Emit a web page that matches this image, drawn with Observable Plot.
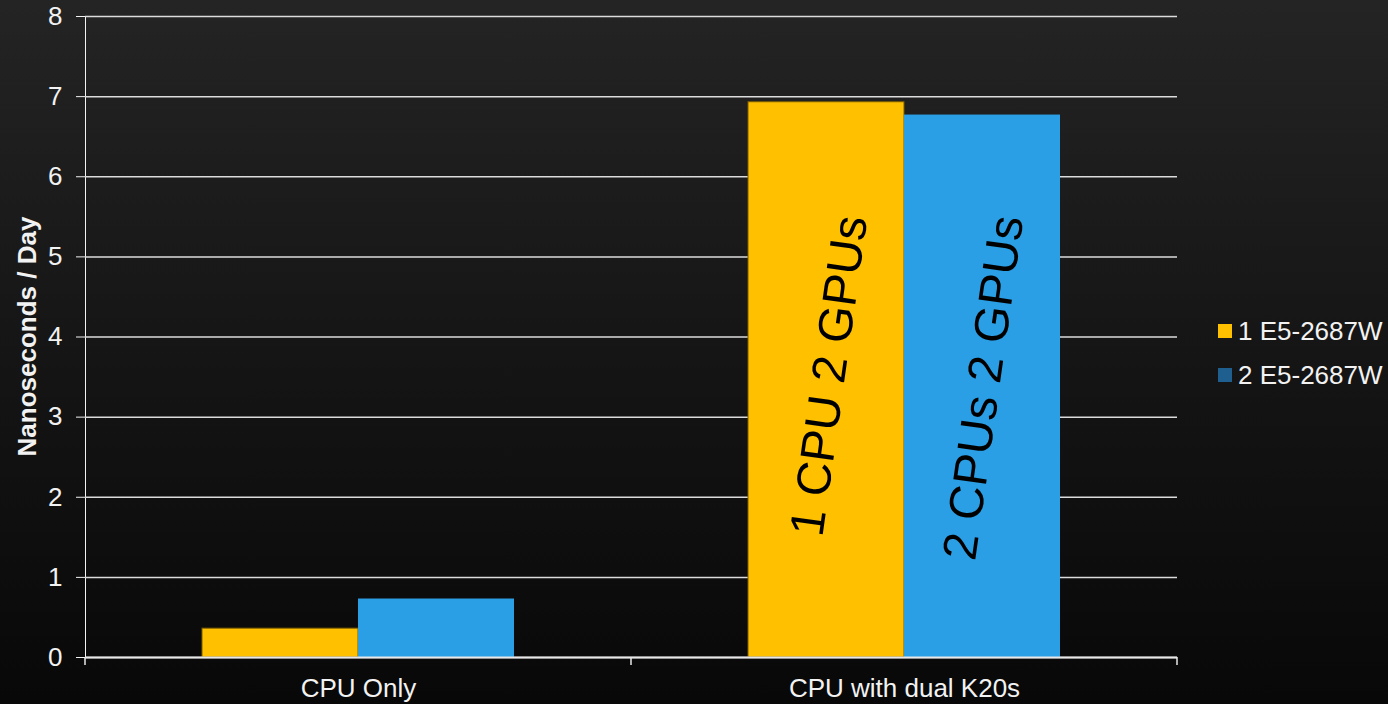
<!DOCTYPE html>
<html><head><meta charset="utf-8">
<script src="https://cdn.jsdelivr.net/npm/d3@7"></script>
<script src="https://cdn.jsdelivr.net/npm/@observablehq/plot@0.6"></script>
<style>
html,body{margin:0;padding:0;width:1388px;height:704px;overflow:hidden;background:linear-gradient(to bottom,#242424 0%,#161616 47%,#080808 100%);font-family:"Liberation Sans",Arial,sans-serif;}
#wrap{position:relative;width:1388px;height:704px;}
#chart svg{position:absolute;left:0;top:0;}
#legend{position:absolute;left:1218px;top:320px;color:#f2f2f2;font-size:26px;line-height:22px;}
.item{display:flex;align-items:center;height:22px;margin-bottom:22px;white-space:nowrap;}
.sw{width:14px;height:14px;margin-right:6px;flex:none;}
</style></head><body>
<div id="wrap"><div id="chart"></div><div id="legend"></div></div>
<script>
const categories = ["CPU Only", "CPU with dual K20s"];
const seriesNames = ["1 E5-2687W", "2 E5-2687W"];
const seriesOne = [0.36, 6.93];
const seriesTwo = [0.73, 6.77];
const barLabels = ["1 CPU 2 GPUs", "2 CPUs 2 GPUs"];
const yTicks = [0, 1, 2, 3, 4, 5, 6, 7, 8];
const yLabel = "Nanoseconds / Day";

const barColors = ["#FFC000", "#2B9FE5"];
const legendColors = ["#FFC000", "#1F5F8F"];

const table = [];
categories.forEach((c, i) => {
  [seriesOne, seriesTwo].forEach((vals, j) => {
    table.push({category: c, series: seriesNames[j], value: vals[i],
      label: i === 1 ? barLabels[j] : null});
  });
});

const plot = Plot.plot({
  width: 1388,
  height: 704,
  marginLeft: 85,
  marginRight: 211,
  marginTop: 16,
  marginBottom: 47,
  style: {background: "transparent", color: "#f2f2f2", fontSize: "26px", fontFamily: "'Liberation Sans', Arial, sans-serif"},
  facet: {data: table, x: "category", marginTop: 0, marginBottom: 0, marginLeft: 0, marginRight: 0},
  fx: {domain: categories, padding: 0, label: null, tickSize: 0, tickPadding: 21},
  x: {domain: seriesNames, paddingInner: 0, paddingOuter: 0.75, axis: null},
  y: {domain: [0, 8], ticks: yTicks, tickSize: 9, tickPadding: 14, label: null, line: true},
  color: {domain: seriesNames, range: barColors},
  marks: [
    Plot.ruleY(yTicks, {stroke: "#dcdcdc", strokeWidth: 1.5}),
    Plot.barY(table, {filter: d => d.series === seriesNames[0], x: "series", y: "value", fill: "series", stroke: "#7a5c00", strokeWidth: 1}),
    Plot.barY(table, {filter: d => d.series === seriesNames[1], x: "series", y: "value", fill: "series"}),
    Plot.ruleY([0], {stroke: "#e8e8e8", strokeWidth: 2}),
    Plot.text(table, {filter: d => d.label, x: "series", text: "label", frameAnchor: "top",
      dy: 197, dx: 7, rotate: -82, textAnchor: "end", fontSize: 48, fill: "#000"})
  ]
});
document.getElementById("chart").appendChild(plot);

// category boundary ticks and y label, placed with the plot's own scales
const svg = d3.select(plot);
const fxs = plot.scale("fx");
const ys = plot.scale("y");
const band = d3.scaleBand().domain(fxs.domain).range(fxs.range).padding(0);
const y0 = ys.range[0], y1 = ys.range[1];
const bounds = fxs.domain.map(c => band(c)).concat([band(fxs.domain[fxs.domain.length - 1]) + band.bandwidth()]);
svg.append("g").selectAll("line").data(bounds).join("line")
  .attr("x1", d => d).attr("x2", d => d)
  .attr("y1", y0).attr("y2", y0 + 8)
  .attr("stroke", "#e8e8e8").attr("stroke-width", 1.5);
svg.append("text")
  .attr("transform", `translate(27,${(y0 + y1) / 2}) rotate(-90)`)
  .attr("text-anchor", "middle").attr("dominant-baseline", "central")
  .attr("fill", "#f2f2f2").attr("font-weight", "bold").attr("font-size", "26px")
  .text(yLabel);

// legend
const legend = d3.select("#legend");
seriesNames.forEach((s, i) => {
  const it = legend.append("div").attr("class", "item");
  it.append("div").attr("class", "sw").style("background", legendColors[i]);
  it.append("span").text(s);
});
</script>
</body></html>
